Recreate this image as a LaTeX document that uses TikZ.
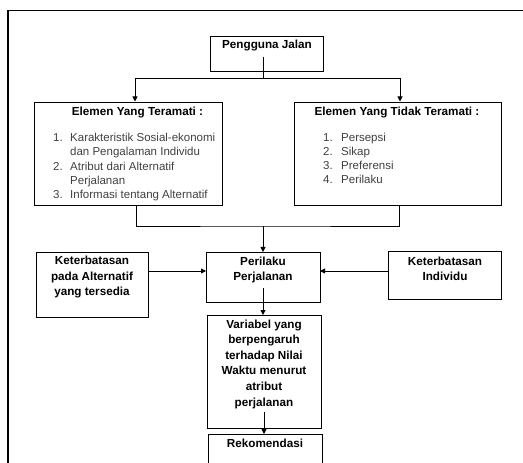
\documentclass[tikz,border=0pt]{standalone}
\usepackage{fontspec}
\setmainfont{Liberation Sans}
\usetikzlibrary{arrows.meta}
\begin{document}
\begin{tikzpicture}[x=1bp,y=-1bp,
  box/.style={draw=black, line width=0.9bp, inner sep=0pt, outer sep=0pt, fill=white},
  conn/.style={draw=black, line width=0.9bp},
  arr/.style={conn, -{Triangle[length=5bp,width=5bp]}},
  title/.style={inner sep=0pt, font=\fontsize{11.7bp}{15.2bp}\selectfont\bfseries, align=center, text=black},
  item/.style={inner sep=0pt, anchor=base west, font=\fontsize{11.5bp}{14.2bp}\selectfont, text=black!75}
]
\clip (0,0) rectangle (523,463);
\fill[white] (0,0) rectangle (523,463);
% outer frame
\draw[line width=1bp] (7,10.3) -- (523,10.3);
\draw[line width=2bp] (7.5,463) -- (7.5,9.8);

% boxes
\node[box, minimum width=113bp, minimum height=35bp] (pj) at (266.5,53.5) {};
\node[box, minimum width=188bp, minimum height=103bp] (el) at (128,153.5) {};
\node[box, minimum width=207bp, minimum height=103bp] (er) at (397.5,153.5) {};
\node[box, minimum width=112bp, minimum height=65bp] (kl) at (92,284.5) {};
\node[box, minimum width=114bp, minimum height=50bp] (pp) at (263,277) {};
\node[box, minimum width=113bp, minimum height=48bp] (kr) at (444.5,275) {};
\node[box, minimum width=114bp, minimum height=113bp] (vb) at (264,371.5) {};
\node[box, minimum width=114bp, minimum height=60bp] (rk) at (265,464) {};

% texts
\node[title] (pjt) at (267,46) {Pengguna Jalan};
\node[title] (elt) at (137.5,113) {Elemen Yang Teramati :};
\node[title] (ert) at (397,113) {Elemen Yang Tidak Teramati :};

\node[item] (eln1) at (53,142) {1.};
\node[item] (elx1) at (70,142) {Karakteristik Sosial-ekonomi};
\node[item] (elx1b) at (70,156) {dan Pengalaman Individu};
\node[item] (eln2) at (53,170.5) {2.};
\node[item] (elx2) at (70,170.5) {Atribut dari Alternatif};
\node[item] (elx2b) at (70,184.5) {Perjalanan};
\node[item] (eln3) at (53,198.5) {3.};
\node[item] (elx3) at (70,198.5) {Informasi tentang Alternatif};

\node[item] (ern1) at (323,142) {1.};
\node[item] (erx1) at (341,142) {Persepsi};
\node[item] (ern2) at (323,156) {2.};
\node[item] (erx2) at (341,156) {Sikap};
\node[item] (ern3) at (323,170) {3.};
\node[item] (erx3) at (341,170) {Preferensi};
\node[item] (ern4) at (323,184) {4.};
\node[item] (erx4) at (341,184) {Perilaku};

\node[title] (klt) at (92,277) {Keterbatasan\\pada Alternatif\\yang tersedia};
\node[title] (ppt) at (263,270) {Perilaku\\Perjalanan};
\node[title] (krt) at (445,269) {Keterbatasan\\Individu};
\node[title, font=\fontsize{11.7bp}{15.6bp}\selectfont\bfseries] (vbt) at (264,364) {Variabel yang\\berpengaruh\\terhadap Nilai\\Waktu menurut\\atribut\\perjalanan};
\node[title] (rkt) at (265,443) {Rekomendasi};

% connectors
\coordinate (pjs) at (263,57);
\coordinate (sp1) at (263,78);
\coordinate (elin) at (135,101.5);
\coordinate (erin) at (400,101.5);
\draw[conn] (pjs) -- (sp1);
\draw[arr] (sp1) -| (elin);
\draw[arr] (sp1) -| (erin);

\coordinate (elout) at (136,205);
\coordinate (erout) at (399,205);
\coordinate (sp2) at (263,226);
\draw[conn] (elout) |- (sp2) -| (erout);
\draw[arr] (sp2) -- (pp.north);

\coordinate (hrow) at (0,271);
\draw[arr] (kl.east |- hrow) -- (pp.west |- hrow);
\draw[arr] (kr.west |- hrow) -- (pp.east |- hrow);

\coordinate (pps) at (263,288);
\draw[arr] (pps) -- (vb.north -| pps);
\coordinate (vbs) at (264,412);
\draw[arr] (vbs) -- (rk.north -| vbs);
\end{tikzpicture}
\end{document}
